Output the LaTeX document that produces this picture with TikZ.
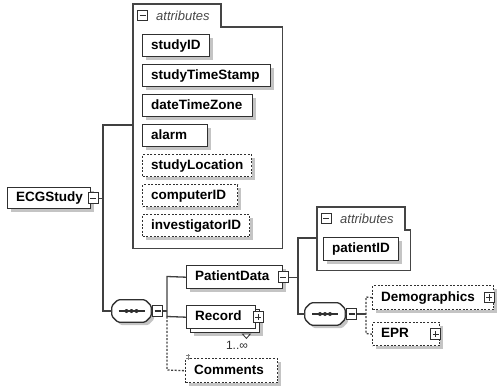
\documentclass[tikz,border=0pt]{standalone}
\usepackage{fontspec}
\setmainfont{Liberation Sans}
\usetikzlibrary{shadows}
\definecolor{boxcol}{HTML}{303030}
\definecolor{linecol}{HTML}{404040}
\definecolor{shadowcol}{HTML}{C4C4C4}
\definecolor{grpcol}{HTML}{454545}
\definecolor{labcol}{HTML}{484848}
\newcommand\elfont{\fontsize{13.5}{15}\selectfont\bfseries}
\newcommand\seqshape[1]{%
  \draw[boxcol, line width=1.3pt, fill=white, rounded corners=1.5pt, shad]
    ([xshift=6pt]#1.north west) -- ([xshift=-6pt]#1.north east) -- ([yshift=-6pt]#1.north east)
    -- ([yshift=6pt]#1.south east) -- ([xshift=-6pt]#1.south east) -- ([xshift=6pt]#1.south west)
    -- ([yshift=6pt]#1.south west) -- ([yshift=-6pt]#1.north west) -- cycle;
  \draw[boxcol, line width=1.2pt] ([xshift=-13pt]#1.center) -- ([xshift=13pt]#1.center);
  \fill[boxcol] ([xshift=-5pt]#1.center) circle (2pt) (#1.center) circle (2pt)
    ([xshift=5pt]#1.center) circle (2pt);
}
\tikzset{
  shad/.style={drop shadow={shadow xshift=3pt, shadow yshift=-3pt, fill=shadowcol, opacity=1}},
  boxbase/.style={draw=boxcol, fill=white, line width=1.4pt, anchor=north west,
    inner xsep=8.5pt, inner ysep=0pt, minimum height=22pt, text width=#1, align=left,
    text height=9.8pt, text depth=2.8pt, font=\elfont,
    execute at begin node={\hyphenpenalty=10000\exhyphenpenalty=10000}},
  reqel/.style={boxbase=#1, shad},
  optel/.style={boxbase=#1, shad, dash pattern=on 2pt off 1.6pt},
  tog/.style={draw=boxcol, fill=white, line width=1pt, minimum width=10pt,
    minimum height=10.5pt, inner sep=0pt},
  togm/.style={tog, path picture={\draw[boxcol, line width=1.1pt]
    ([xshift=2pt]path picture bounding box.west) -- ([xshift=-2pt]path picture bounding box.east);}},
  togp/.style={tog, path picture={\draw[boxcol, line width=1.1pt]
    ([xshift=2pt]path picture bounding box.west) -- ([xshift=-2pt]path picture bounding box.east)
    ([yshift=-2pt]path picture bounding box.north) -- ([yshift=2pt]path picture bounding box.south);}},
  conn/.style={draw=linecol, line width=1.3pt},
  oconn/.style={conn, dash pattern=on 2pt off 1.6pt},
  grpline/.style={draw=grpcol, line width=1.1pt},
  grplab/.style={font=\fontsize{13}{15}\selectfont\itshape, text=labcol, anchor=west, inner sep=0pt},
  seqnode/.style={draw=none, minimum width=39pt, minimum height=22pt, inner sep=0pt},
  grpnode/.style={draw=none, inner sep=0pt, anchor=north west}
}
\begin{document}
\begin{tikzpicture}[x=1pt, y=-1pt]
\useasboundingbox (0,0) rectangle (497,385);

% attribute group of ECGStudy
\node[grpnode, minimum width=149pt, minimum height=244pt] (grp1) at (133,4) {};
\draw[grpline] (grp1.south west) -- (grp1.north west) -- ([xshift=88pt]grp1.north west)
  -- ([shift={(88pt,-23pt)}]grp1.north west) -- ([yshift=-23pt]grp1.north east)
  -- (grp1.south east) -- cycle;
\node[togm] (g1tog) at (142.5,15.5) {};
\node[grplab] (g1lab) at (156,15.5) {attributes};

\node[reqel=50pt] (sid) at (142,34) {studyID};
\node[reqel=111pt] (sts) at (142,64) {studyTimeStamp};
\node[reqel=93pt] (dtz) at (142,94) {dateTimeZone};
\node[reqel=48pt] (alm) at (142,124) {alarm};
\node[optel=92pt] (sloc) at (142,154) {studyLocation};
\node[optel=78pt] (cid) at (142,184) {computerID};
\node[optel=90pt] (iid) at (142,214) {investigatorID};

% root
\node[reqel=66pt, minimum height=21pt] (ecg) at (7,187) {ECGStudy};
\node[togm] (ecgtog) at ([xshift=2pt]ecg.east) {};

% sequence 1
\node[seqnode] (seq1) at (131.5,311) {};
\seqshape{seq1}
\node[togm] (seq1tog) at ([xshift=6.5pt]seq1.east) {};

\node[reqel=79pt, minimum height=23pt] (pd) at (186,265) {PatientData};
\node[togm] (pdtog) at (pd.east) {};

\node[boxbase=52pt, minimum height=23pt,
  drop shadow={shadow xshift=7pt, shadow yshift=-7pt, fill=shadowcol, opacity=1},
  copy shadow={shadow xshift=4pt, shadow yshift=-4pt, draw=boxcol, fill=white, line width=1.4pt}]
  (rec) at (186,305) {Record};
\node[togp] (rectog) at ([xshift=2pt]rec.east) {};
\draw[boxcol, fill=white, line width=0.8pt] ([shift={(-14pt,-4.5pt)}]rec.south east)
  -- ([shift={(-6pt,-4.5pt)}]rec.south east) -- ([shift={(-10pt,-9pt)}]rec.south east) -- cycle;
\node[font=\fontsize{12}{14}\selectfont, text=boxcol, inner sep=0pt] (mult) at (237,345) {1..∞};

\node[optel=75pt, minimum height=24pt] (com) at (185,358) {Comments};
\draw[gray, line width=0.7pt] (186,355.5) -- (190,355.5) (186,358) -- (190,358) (188,354) -- (188,359.5);

% attribute group of PatientData
\node[grpnode, minimum width=93pt, minimum height=63pt] (grp2) at (317,207) {};
\draw[grpline] (grp2.south west) -- (grp2.north west) -- ([xshift=88pt]grp2.north west)
  -- ([shift={(88pt,-23pt)}]grp2.north west) -- ([yshift=-23pt]grp2.north east)
  -- (grp2.south east) -- cycle;
\node[togm] (g2tog) at (326,218.5) {};
\node[grplab] (g2lab) at (340,218.5) {attributes};
\node[reqel=58pt, minimum height=23pt] (pid) at (323,237) {patientID};

% sequence 2
\node[seqnode, minimum width=40pt] (seq2) at (325,314) {};
\seqshape{seq2}
\node[togm] (seq2tog) at ([xshift=6.5pt]seq2.east) {};

\node[optel=104pt, minimum height=24pt] (dem) at (372,285) {Demographics};
\node[togp] (demtog) at ([xshift=-5pt]dem.east) {};
\node[optel=50pt, minimum height=23pt] (epr) at (372,322) {EPR};
\node[togp] (eprtog) at ([xshift=-4.5pt]epr.east) {};

% connectors
\coordinate (t1a) at (103,125);
\coordinate (t1b) at (103,311);
\draw[conn] (ecgtog.east) -- (ecgtog.east -| t1a);
\draw[conn] (grp1.west |- t1a) -- (t1a) -- (t1b) -- (seq1.west);
\draw[conn] (seq1.east) -- (seq1tog.west);

\coordinate (t2a) at (167,276.5);
\coordinate (t2b) at (167,316.5);
\coordinate (t2c) at (167,370);
\draw[conn] (seq1tog.east) -- (seq1tog.east -| t2a);
\draw[conn] (pd.west) -- (t2a) -- (t2b) -- (rec.west);
\draw[oconn] (t2b) -- (t2c) -- (com.west);

\coordinate (t3a) at (298,238);
\coordinate (t3b) at (298,314);
\draw[conn] (pdtog.east) -- (pdtog.east -| t3a);
\draw[conn] (grp2.west |- t3a) -- (t3a) -- (t3b) -- (seq2.west);
\draw[conn] (seq2.east) -- (seq2tog.west);

\coordinate (t4a) at (366,297);
\coordinate (t4b) at (366,333.5);
\draw[conn] (seq2tog.east) -- (seq2tog.east -| t4a);
\draw[oconn] (dem.west) -- (t4a) -- (t4b) -- (epr.west);
\end{tikzpicture}
\end{document}
